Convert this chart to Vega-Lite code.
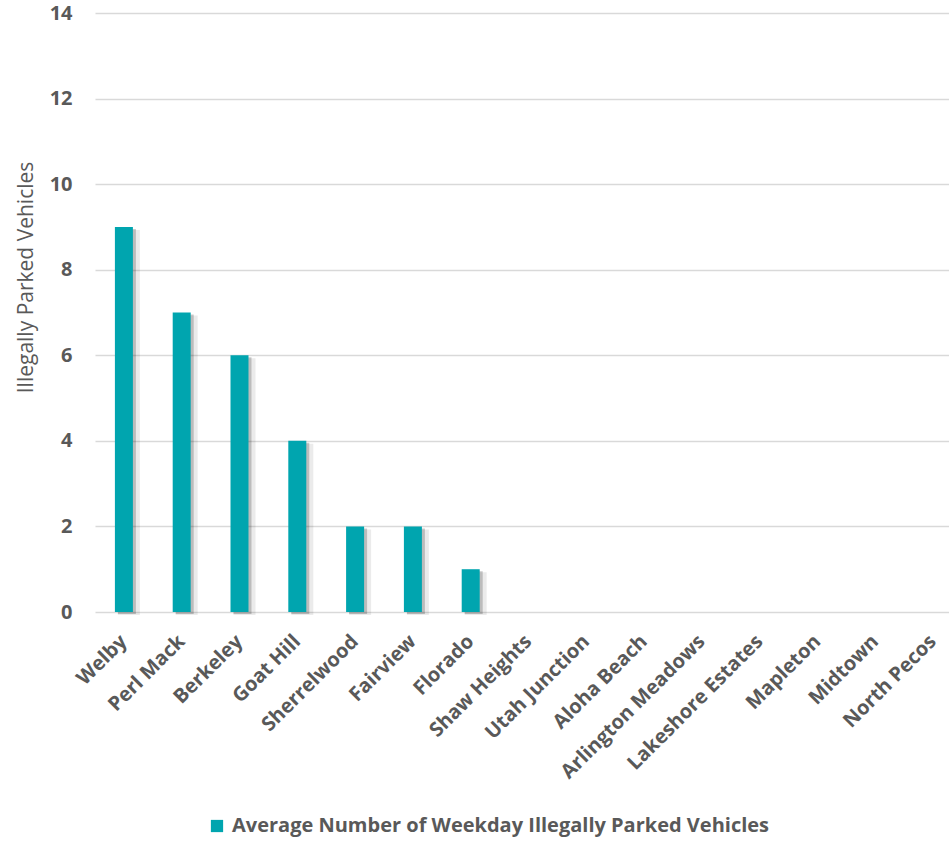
{
  "$schema": "https://vega.github.io/schema/vega-lite/v6.json",
  "autosize": {"type": "none"},
  "padding": {"left": 95, "top": 13, "right": 0, "bottom": 230},
  "width": 854,
  "height": 599,
  "background": "white",
  "data": {
    "values": [
      {"area": "Welby", "vehicles": 9},
      {"area": "Perl Mack", "vehicles": 7},
      {"area": "Berkeley", "vehicles": 6},
      {"area": "Goat Hill", "vehicles": 4},
      {"area": "Sherrelwood", "vehicles": 2},
      {"area": "Fairview", "vehicles": 2},
      {"area": "Florado", "vehicles": 1},
      {"area": "Shaw Heights", "vehicles": 0},
      {"area": "Utah Junction", "vehicles": 0},
      {"area": "Aloha Beach", "vehicles": 0},
      {"area": "Arlington Meadows", "vehicles": 0},
      {"area": "Lakeshore Estates", "vehicles": 0},
      {"area": "Mapleton", "vehicles": 0},
      {"area": "Midtown", "vehicles": 0},
      {"area": "North Pecos", "vehicles": 0}
    ]
  },
  "config": {
    "view": {"stroke": null},
    "font": "Open Sans"
  },
  "encoding": {
    "x": {
      "field": "area",
      "type": "nominal",
      "sort": null,
      "scale": {"range": [0, 867], "paddingInner": 0, "paddingOuter": 0},
      "axis": {
        "title": null,
        "domain": false,
        "ticks": false,
        "labelAngle": -45,
        "labelAlign": "right",
        "labelBaseline": "middle",
        "labelPadding": 26,
        "labelFont": "Open Sans",
        "labelFontWeight": "bold",
        "labelFontSize": 20,
        "labelColor": "#595959",
        "labelOverlap": false,
        "labelLimit": 400
      }
    },
    "y": {
      "field": "vehicles",
      "type": "quantitative",
      "scale": {"domain": [0, 14], "nice": false},
      "axis": {
        "title": "Illegally Parked Vehicles",
        "titleFont": "Open Sans",
        "titleFontWeight": "normal",
        "titleFontSize": 21,
        "titleColor": "#595959",
        "titleAngle": -90,
        "titleAlign": "center",
        "titleBaseline": "middle",
        "titleX": -69,
        "titleY": 264,
        "values": [0, 2, 4, 6, 8, 10, 12, 14],
        "domain": false,
        "ticks": false,
        "labelPadding": 23,
        "labelFont": "Open Sans",
        "labelFontWeight": "bold",
        "labelFontSize": 20,
        "labelColor": "#595959",
        "grid": true,
        "gridColor": "#d9d9d9",
        "gridWidth": 1.5
      }
    }
  },
  "layer": [
    {
      "mark": {"type": "bar", "width": 22, "color": "#000000", "opacity": 0.08, "xOffset": 5, "yOffset": 3},
      "encoding": {}
    },
    {
      "mark": {"type": "bar", "width": 18, "color": "#000000", "opacity": 0.2, "xOffset": 3, "yOffset": 2},
      "encoding": {}
    },
    {
      "mark": {"type": "bar", "width": 18},
      "encoding": {
        "color": {
          "datum": "Average Number of Weekday Illegally Parked Vehicles",
          "scale": {"range": ["#00A5AF"]},
          "legend": {
            "title": null,
            "orient": "none",
            "legendX": 112,
            "legendY": 803,
            "symbolType": "square",
            "symbolSize": 150,
            "symbolStrokeWidth": 0,
            "labelFont": "Open Sans",
            "labelFontWeight": "bold",
            "labelFontSize": 20,
            "labelColor": "#595959",
            "labelLimit": 800,
            "labelOffset": 5
          }
        }
      }
    }
  ]
}
